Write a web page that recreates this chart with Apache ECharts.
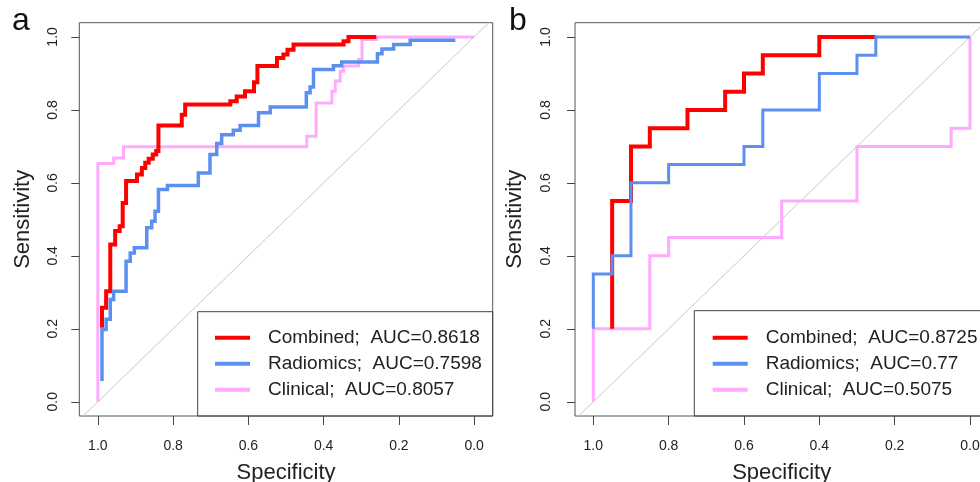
<!DOCTYPE html>
<html><head><meta charset="utf-8">
<script src="https://cdn.jsdelivr.net/npm/echarts@6/dist/echarts.min.js"></script>
<style>html,body{margin:0;padding:0;background:#fff}#c{width:980px;height:482px}</style>
</head><body><div id="c"></div>
<script>
// ---------- data ----------
const tickValues = [0, 0.2, 0.4, 0.6, 0.8, 1.0];
const panelLabels = ['a', 'b'];
const modelNames = ['Combined', 'Radiomics', 'Clinical'];
const aucA = ['0.8618', '0.7598', '0.8057'];
const aucB = ['0.8725', '0.77', '0.5075'];
const diagonalSpec = [1.1, -0.1];
const diagonalSens = [-0.1, 1.1];

// panel a (ROC points: specificity, sensitivity)
const aCombinedSpec = [0.989,0.978,0.967,0.954,0.942,0.934,0.925,0.896,0.883,0.874,0.865,0.854,0.845,0.839,0.777,0.768,0.648,0.631,0.609,0.585,0.576,0.524,0.507,0.496,0.480,0.347,0.334,0.260];
const aCombinedSens = [0.203,0.258,0.303,0.431,0.468,0.481,0.545,0.605,0.623,0.641,0.655,0.666,0.678,0.687,0.757,0.787,0.815,0.824,0.837,0.851,0.876,0.920,0.942,0.952,0.965,0.979,0.988,1.0];
const aRadiomicsSpec = [0.989,0.978,0.967,0.958,0.925,0.914,0.903,0.870,0.857,0.848,0.839,0.815,0.733,0.702,0.684,0.671,0.640,0.622,0.573,0.542,0.446,0.436,0.427,0.374,0.352,0.257,0.245,0.214,0.170,0.050];
const aRadiomicsSens = [0.057,0.198,0.226,0.280,0.303,0.385,0.408,0.422,0.477,0.495,0.522,0.582,0.593,0.627,0.678,0.708,0.732,0.744,0.757,0.792,0.808,0.847,0.863,0.911,0.921,0.931,0.954,0.967,0.979,0.991];
const aClinicalSpec = [1.0,0.958,0.932,0.445,0.420,0.378,0.369,0.356,0.347,0.307,0.298,0.259,0.0];
const aClinicalSens = [0.0,0.653,0.668,0.699,0.728,0.819,0.851,0.879,0.906,0.920,0.938,0.993,1.0];

// panel b
const bCombinedSpec = [0.95,0.90,0.85,0.75,0.65,0.60,0.55,0.40,0.25];
const bCombinedSens = [0.20,0.55,0.70,0.75,0.80,0.85,0.90,0.95,1.0];
const bRadiomicsSpec = [1.0,0.95,0.90,0.80,0.60,0.55,0.40,0.30,0.25,0.0];
const bRadiomicsSens = [0.20,0.35,0.40,0.60,0.65,0.70,0.80,0.90,0.95,1.0];
const bClinicalSpec = [1.0,0.85,0.80,0.50,0.30,0.05,0.0,0.0];
const bClinicalSens = [0.0,0.20,0.40,0.45,0.55,0.70,0.75,1.0];

// ---------- styling ----------
const FONT = "'Liberation Sans', Arial, Helvetica, sans-serif";
const COLORS = { Combined: '#ff0000', Radiomics: '#5b8ff0', Clinical: '#ffaaff' };
const TXT = '#222';
const zip = (xs, ys) => xs.map((x, i) => [x, ys[i]]);
const fmt = v => Number(v).toFixed(1);

const panels = [
  { grid: { left: 79.3, top: 22.7, width: 413.4, height: 393.3 }, ext: 0.0493,
    ylabMargin: 19, ynameGap: 45,
    auc: aucA, widths: [4, 3.5, 3],
    data: [zip(aCombinedSpec, aCombinedSens), zip(aRadiomicsSpec, aRadiomicsSens), zip(aClinicalSpec, aClinicalSens)],
    legend: { left: 215, top: 328.2 }, box: { x: 197.7, y: 311.7, w: 295, h: 104.3 },
    label: { x: 12, y: 21 } },
  { grid: { left: 575, top: 22.7, width: 413.3, height: 393.3 }, ext: 0.0486,
    ylabMargin: 22, ynameGap: 49,
    auc: aucB, widths: [4, 3, 3],
    data: [zip(bCombinedSpec, bCombinedSens), zip(bRadiomicsSpec, bRadiomicsSens), zip(bClinicalSpec, bClinicalSens)],
    legend: { left: 712.7, top: 328.2 }, box: { x: 694.3, y: 310.7, w: 300, h: 105.3 },
    label: { x: 509, y: 21 } }
];

const option = {
  animation: false,
  backgroundColor: '#fff',
  grid: [], xAxis: [], yAxis: [], series: [], legend: [], graphic: []
};

panels.forEach((p, gi) => {
  option.grid.push(Object.assign({ show: true, borderColor: '#555', borderWidth: 1, backgroundColor: 'transparent',
    containLabel: false, outerBoundsMode: 'none' }, p.grid));
  option.xAxis.push({
    gridIndex: gi, type: 'value', inverse: true, min: -p.ext, max: 1 + p.ext, position: 'bottom',
    name: 'Specificity', nameLocation: 'middle', nameGap: 46,
    nameTextStyle: { fontSize: 22, color: TXT, fontFamily: FONT },
    axisLine: { show: false, onZero: false }, splitLine: { show: false },
    axisTick: { show: true, length: 9, customValues: tickValues, lineStyle: { color: '#444', width: 1 } },
    axisLabel: { customValues: tickValues, formatter: fmt, margin: 23, fontSize: 14, color: TXT, fontFamily: FONT }
  });
  option.yAxis.push({
    gridIndex: gi, type: 'value', min: -0.039, max: 1.039, position: 'left',
    name: 'Sensitivity', nameLocation: 'middle', nameGap: p.ynameGap,
    nameTextStyle: { fontSize: 22, color: TXT, fontFamily: FONT },
    axisLine: { show: false, onZero: false }, splitLine: { show: false },
    axisTick: { show: true, length: 8, customValues: tickValues, lineStyle: { color: '#444', width: 1 } },
    axisLabel: { customValues: tickValues, formatter: fmt, rotate: 90, margin: p.ylabMargin, fontSize: 14, color: TXT, fontFamily: FONT }
  });
  // diagonal reference
  option.series.push({
    type: 'line', xAxisIndex: gi, yAxisIndex: gi, data: zip(diagonalSpec, diagonalSens),
    symbol: 'none', silent: true, clip: true,
    lineStyle: { color: '#c8c8c8', width: 1 }
  });
  const names = modelNames.map((m, i) => m + ';  AUC=' + p.auc[i]);
  // draw order: Clinical, Combined, Radiomics
  [2, 0, 1].forEach(i => {
    option.series.push({
      type: 'line', name: names[i], xAxisIndex: gi, yAxisIndex: gi,
      data: p.data[i], step: 'start', symbol: 'none', clip: true,
      color: COLORS[modelNames[i]],
      lineStyle: { color: COLORS[modelNames[i]], width: p.widths[i], join: 'miter', cap: 'butt' }
    });
  });
  option.legend.push({
    left: p.legend.left, top: p.legend.top, orient: 'vertical', align: 'left',
    data: names, selectedMode: false, icon: 'rect', itemWidth: 35, itemHeight: 4, itemGap: 7,
    padding: 0,
    textStyle: { fontSize: 19, color: TXT, fontFamily: FONT, padding: [0, 0, 0, 13] }
  });
  option.graphic.push({
    type: 'rect', shape: { x: p.box.x, y: p.box.y, width: p.box.w, height: p.box.h },
    style: { fill: 'transparent', stroke: '#444', lineWidth: 1 }, z: 5, silent: true
  });
  option.graphic.push({
    type: 'text', x: p.label.x, y: p.label.y,
    style: { text: panelLabels[gi], font: '32px ' + FONT, fill: '#111', align: 'left', verticalAlign: 'middle' },
    silent: true
  });
});

const chart = echarts.init(document.getElementById('c'), null, { renderer: 'canvas' });
chart.setOption(option);
</script>
</body></html>
